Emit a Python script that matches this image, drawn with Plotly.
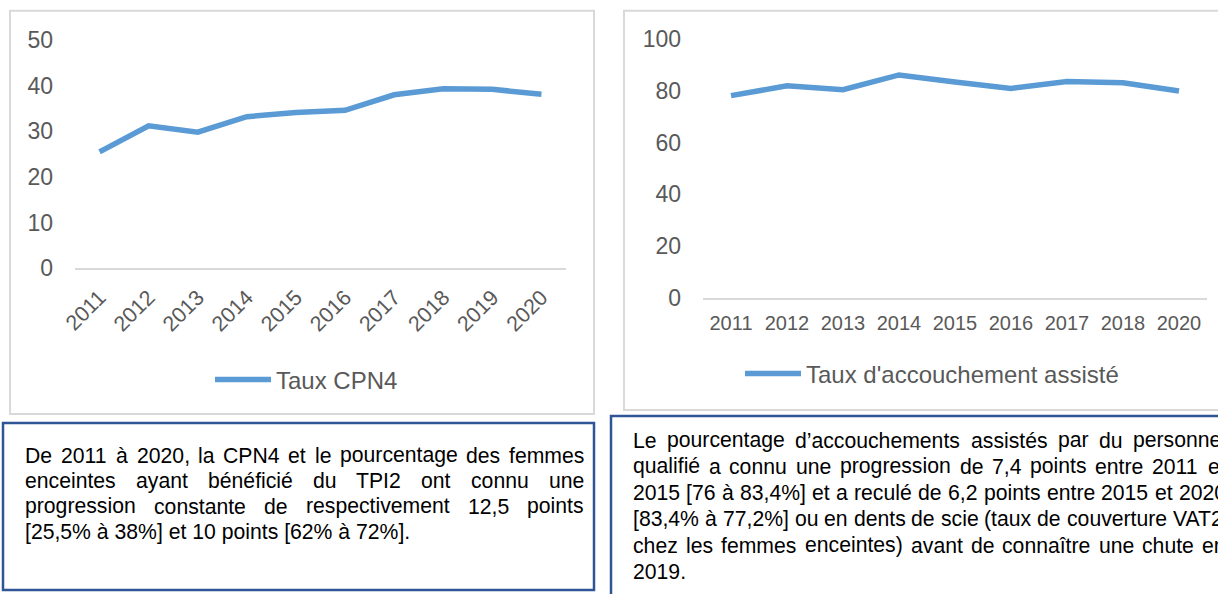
import plotly.graph_objects as go

# ---------------- data ----------------
years_cpn4 = ["2011", "2012", "2013", "2014", "2015", "2016", "2017", "2018", "2019", "2020"]
taux_cpn4 = [25.5, 31.2, 29.8, 33.2, 34.1, 34.6, 38.0, 39.3, 39.2, 38.1]

years_acc = ["2011", "2012", "2013", "2014", "2015", "2016", "2017", "2018", "2020"]
taux_acc = [78.2, 82.0, 80.5, 86.2, 83.5, 81.0, 83.7, 83.2, 80.0]

left_ticks = [0, 10, 20, 30, 40, 50]
right_ticks = [0, 20, 40, 60, 80, 100]

left_text = [
    "De 2011 à 2020, la CPN4 et le pourcentage des femmes",
    "enceintes ayant bénéficié du TPI2 ont connu une",
    "progression constante de respectivement 12,5 points",
    "[25,5% à 38%] et 10 points [62% à 72%].",
]
right_text = [
    "Le pourcentage d’accouchements assistés par du personnel",
    "qualifié a connu une progression de 7,4 points entre 2011 et",
    "2015 [76 à 83,4%] et a reculé de 6,2 points entre 2015 et 2020",
    "[83,4% à 77,2%] ou en dents de scie (taux de couverture VAT2",
    "chez les femmes enceintes) avant de connaître une chute en",
    "2019.",
]

# ---------------- layout helpers ----------------
W, H = 1218, 594
def px(x):
    return x / W
def py(y):
    return 1 - y / H

BLUE = "#5B9BD5"
GREY_TXT = "#595959"
FRAME = "#D9D9D9"
BOX = "#2F5597"
FONT = "Liberation Sans, Arial, sans-serif"

# Arial / Liberation Sans advance widths (per 1000 em)
AW = {" ": 278, ",": 278, ".": 278, "%": 889, "[": 278, "]": 278, "(": 333, ")": 333,
      "’": 222, "'": 191}
for d in "0123456789":
    AW[d] = 556
AW.update({"A": 667, "C": 722, "D": 722, "I": 278, "L": 556, "N": 722, "P": 667, "T": 611, "V": 667})
AW.update({"a": 556, "b": 556, "c": 500, "d": 556, "e": 556, "f": 278, "g": 556, "h": 556,
           "i": 222, "j": 222, "k": 500, "l": 222, "m": 833, "n": 556, "o": 556, "p": 556,
           "q": 556, "r": 333, "s": 500, "t": 278, "u": 556, "v": 500, "w": 722, "x": 500,
           "y": 500, "z": 500, "à": 556, "é": 556, "î": 278, "ê": 556})

def text_w(s, size):
    return sum(AW.get(ch, 556) for ch in s) / 1000 * size

def justified_line(words, x0, x1, y, size, justify=True):
    anns = []
    if not justify:
        anns.append(dict(x=px(x0), y=py(y), text=" ".join(words)))
        return anns
    widths = [text_w(w, size) for w in words]
    gap = (x1 - x0 - sum(widths)) / (len(words) - 1)
    x = x0
    for w, wd in zip(words, widths):
        anns.append(dict(x=px(x), y=py(y), text=w))
        x += wd + gap
    return anns

fig = go.Figure()

fig.add_trace(go.Scatter(
    x=years_cpn4, y=taux_cpn4, mode="lines", name="Taux CPN4",
    line=dict(color=BLUE, width=5.5), xaxis="x", yaxis="y", legend="legend",
))
fig.add_trace(go.Scatter(
    x=years_acc, y=taux_acc, mode="lines", name="Taux d'accouchement assisté",
    line=dict(color=BLUE, width=5.5), xaxis="x2", yaxis="y2", legend="legend2",
))

axis_common = dict(showgrid=False, zeroline=False, ticks="", fixedrange=True, automargin=False)

fig.update_layout(
    width=W, height=H,
    margin=dict(l=0, r=0, t=0, b=0, pad=0, autoexpand=False),
    paper_bgcolor="white", plot_bgcolor="white",
    font=dict(family=FONT, color=GREY_TXT),
    xaxis=dict(domain=[px(75), px(566)], anchor="y", type="category",
               range=[-0.5, len(years_cpn4) - 0.5], showline=True, linecolor=FRAME, linewidth=2,
               tickangle=-45, tickfont=dict(size=21.5, color=GREY_TXT), ticklabelstandoff=6,
               **axis_common),
    yaxis=dict(domain=[py(268.3), py(40)], anchor="x", range=[0, 50], tickvals=left_ticks,
               showline=False, tickfont=dict(size=23, color=GREY_TXT), ticklabelstandoff=21,
               **axis_common),
    xaxis2=dict(domain=[px(703), px(1207)], anchor="y2", type="category",
                range=[-0.5, len(years_acc) - 0.5], showline=True, linecolor=FRAME, linewidth=2,
                tickangle=0, tickfont=dict(size=20, color=GREY_TXT), ticklabelstandoff=6,
                **axis_common),
    yaxis2=dict(domain=[py(297.7), py(39.3)], anchor="x2", range=[0, 100], tickvals=right_ticks,
                showline=False, tickfont=dict(size=23, color=GREY_TXT), ticklabelstandoff=21,
                **axis_common),
    legend=dict(x=px(210), y=py(380), xanchor="left", yanchor="middle", orientation="h",
                font=dict(size=24, color=GREY_TXT), itemwidth=56, bgcolor="rgba(0,0,0,0)"),
    legend2=dict(x=px(740), y=py(374), xanchor="left", yanchor="middle", orientation="h",
                 font=dict(size=24, color=GREY_TXT), itemwidth=56, bgcolor="rgba(0,0,0,0)"),
    showlegend=True,
)

# frames and text boxes
shapes = [
    dict(type="rect", xref="paper", yref="paper", x0=px(10), x1=px(594), y0=py(414), y1=py(10.7),
         line=dict(color=FRAME, width=2), fillcolor="rgba(0,0,0,0)", layer="below"),
    dict(type="rect", xref="paper", yref="paper", x0=px(624), x1=px(1245), y0=py(410), y1=py(10.7),
         line=dict(color=FRAME, width=2), fillcolor="rgba(0,0,0,0)", layer="below"),
    dict(type="rect", xref="paper", yref="paper", x0=px(3), x1=px(594), y0=py(590), y1=py(423),
         line=dict(color=BOX, width=2.5), fillcolor="rgba(0,0,0,0)"),
    dict(type="rect", xref="paper", yref="paper", x0=px(611), x1=px(1245), y0=py(620), y1=py(416),
         line=dict(color=BOX, width=2.5), fillcolor="rgba(0,0,0,0)"),
]
fig.update_layout(shapes=shapes)

# paragraph texts (justified like the source document)
BODY = 21.2
anns = []
left_y0, left_dy = 455, 25.6
for i, line in enumerate(left_text):
    last = i == len(left_text) - 1
    anns += justified_line(line.split(" "), 24, 583, left_y0 + i * left_dy, BODY, justify=not last)
right_y0, right_dy = 440, 26.3
for i, line in enumerate(right_text):
    last = i == len(right_text) - 1
    anns += justified_line(line.split(" "), 632, 1225, right_y0 + i * right_dy, BODY, justify=not last)

for a in anns:
    a.update(xref="paper", yref="paper", xanchor="left", yanchor="middle", showarrow=False,
             borderpad=0, font=dict(family=FONT, size=BODY, color="#000000"))
fig.update_layout(annotations=anns)

# the page's default 8px body margin would shift the whole figure; remove it
fig.write_html(
    "out.html",
    config={"displayModeBar": False, "staticPlot": True},
    post_script="document.body.style.margin='0px';document.body.style.overflow='hidden';",
)
